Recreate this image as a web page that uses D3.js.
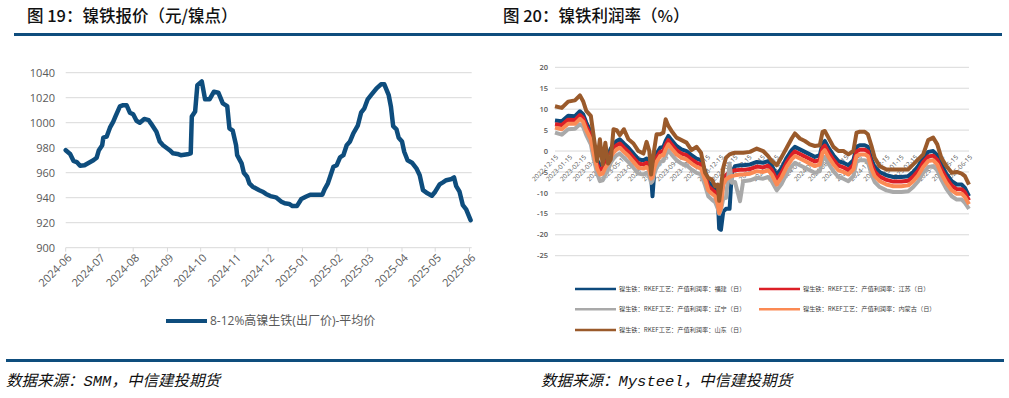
<!DOCTYPE html>
<html>
<head>
<meta charset="utf-8">
<script src="https://cdn.jsdelivr.net/npm/d3@7/dist/d3.min.js"></script>
<style>
  body { margin: 0; background: #fff; }
  svg { display: block; }
  .tick-lbl { font-family: "Open Sans", "Noto Sans CJK SC", sans-serif; fill: #595959; }
</style>
</head>
<body>
<div id="chart"></div>
<script>
// ---- left chart: 8-12% high nickel pig iron price
const priceDates = ["2024-06-01","2024-06-05","2024-06-08","2024-06-11","2024-06-14","2024-06-18","2024-06-22","2024-06-26","2024-06-29",
  "2024-07-01","2024-07-04","2024-07-05","2024-07-08","2024-07-11","2024-07-14","2024-07-16","2024-07-20","2024-07-23","2024-07-26","2024-07-29",
  "2024-08-01","2024-08-04","2024-08-07","2024-08-11","2024-08-15","2024-08-17","2024-08-22","2024-08-25","2024-08-28","2024-08-31",
  "2024-09-03","2024-09-06","2024-09-10","2024-09-13","2024-09-19","2024-09-22","2024-09-23","2024-09-26","2024-09-28",
  "2024-10-02","2024-10-05","2024-10-09","2024-10-13","2024-10-17","2024-10-21","2024-10-25","2024-10-27","2024-10-30",
  "2024-11-02","2024-11-03","2024-11-07","2024-11-09","2024-11-12","2024-11-14","2024-11-17","2024-11-23","2024-11-26","2024-11-29",
  "2024-12-03","2024-12-08","2024-12-13","2024-12-16","2024-12-20","2024-12-23","2024-12-27","2024-12-31",
  "2025-01-04","2025-01-08","2025-01-13","2025-01-19","2025-01-21","2025-01-24","2025-01-26","2025-01-29",
  "2025-02-01","2025-02-04","2025-02-07","2025-02-10","2025-02-13","2025-02-16","2025-02-20","2025-02-23","2025-02-26",
  "2025-03-01","2025-03-04","2025-03-09","2025-03-13","2025-03-16","2025-03-20","2025-03-22","2025-03-24","2025-03-27","2025-03-29",
  "2025-04-01","2025-04-03","2025-04-06","2025-04-10","2025-04-14","2025-04-17","2025-04-20","2025-04-24","2025-04-28",
  "2025-05-01","2025-05-05","2025-05-08","2025-05-11","2025-05-15","2025-05-18","2025-05-20","2025-05-23","2025-05-26","2025-05-29","2025-06-02"];
const priceValues = [978,975,969.5,968.5,965.6,966,968,970,972,
  978,982,988,988.8,996,1000.8,1005,1013,1014,1014,1008,
  1006.7,1001.6,1000,1003,1002,999.5,992.8,985,982,980,
  978,975.5,975,974,974.7,975.5,1005,1009,1030,
  1033,1018.7,1018.7,1024.8,1024,1015.5,1013.3,995.5,993.6,
  982,974,967.5,960,956.8,951.5,948.8,946,944.8,943,
  941.3,940.3,936.8,935.5,935,933.3,933.3,939,
  940.8,942.4,942.4,942.4,946.7,951.5,956.8,964.8,
  966,972.3,974,982,985,991.5,997.6,1008,1011.5,
  1018.7,1022,1027.5,1030.7,1030.7,1022,1012.8,997.3,994.7,988,
  985,976.8,970,968,963.5,958,946,943.5,941.6,
  944.8,950.7,952.3,954,954.7,956.3,949.3,944.8,934,930.7,922];
const priceTicks = [900, 920, 940, 960, 980, 1000, 1020, 1040];
const priceName = "8-12%高镍生铁(出厂价)-平均价";

// ---- right chart: RKEF profit margin by province
const profitDates = ["2022-12-15","2022-12-30","2023-01-13","2023-01-28","2023-02-08","2023-02-15","2023-02-22","2023-03-04","2023-03-11","2023-03-18",
  "2023-03-24","2023-03-30","2023-04-05","2023-04-11","2023-04-17","2023-04-23","2023-04-30","2023-05-07","2023-05-16","2023-05-26",
  "2023-06-06","2023-06-17","2023-06-28","2023-07-05","2023-07-11","2023-07-15","2023-07-18","2023-07-22","2023-07-27","2023-08-04",
  "2023-08-11","2023-08-16","2023-08-22","2023-08-29","2023-09-09","2023-09-20","2023-10-01","2023-10-12","2023-10-23","2023-11-02",
  "2023-11-11","2023-11-18","2023-11-26","2023-12-03","2023-12-09","2023-12-12","2023-12-16","2023-12-21","2023-12-27","2024-01-04",
  "2024-01-09","2024-01-16","2024-01-27","2024-02-03","2024-02-18","2024-03-04","2024-03-18","2024-03-29","2024-04-06","2024-04-17",
  "2024-04-28","2024-05-09","2024-05-20","2024-05-27","2024-06-07","2024-06-18","2024-06-29","2024-07-10","2024-07-21","2024-07-27",
  "2024-08-01","2024-08-09","2024-08-20","2024-08-31","2024-09-11","2024-09-22","2024-10-03","2024-10-10","2024-10-17","2024-10-28",
  "2024-11-04","2024-11-12","2024-11-19","2024-11-30","2024-12-15","2024-12-30","2025-01-17","2025-02-01","2025-02-12","2025-02-23",
  "2025-03-06","2025-03-17","2025-03-28","2025-04-06","2025-04-15","2025-04-26","2025-05-08","2025-05-19","2025-05-30","2025-06-06","2025-06-15"];
const fujian = [7.3,7.1,8.4,8.3,9.5,8.8,6.8,4.6,1.0,-2.2,
  -3.4,-3.0,-1.8,-1.0,0.6,1.6,2.4,2.8,1.8,0.8,
  -0.6,-2.0,-2.2,-1.8,-2.6,-6.0,-10.8,-5.0,-0.6,0.8,
  1.0,2.4,3.6,2.6,1.2,0.4,0.0,-1.0,-1.8,-2.2,
  -4.8,-7.4,-8.2,-8.8,-11.5,-18.5,-18.8,-14.5,-13.8,-13.8,
  -5.2,-3.6,-3.4,-3.4,-3.2,-2.6,-2.8,-2.4,-3.4,-5.8,
  -4.0,-1.6,0.2,1.0,0.4,-0.2,-0.8,-1.4,-1.0,1.8,
  2.4,0.8,-1.0,-2.4,-2.8,-3.4,-2.2,1.0,1.4,1.4,
  1.0,-2.0,-3.8,-5.0,-5.8,-6.2,-6.2,-6.0,-5.0,-3.6,
  -1.6,-0.2,0.0,-1.0,-3.2,-5.4,-7.2,-8.0,-8.0,-8.8,-10.8];
const jiangsu = [6.4,6.2,7.5,7.4,8.6,7.9,5.9,3.7,0.0,-3.2,
  -4.5,-4.2,-2.9,-2.0,-0.4,0.6,1.4,1.8,0.8,-0.2,
  -1.6,-3.0,-3.2,-2.8,-3.6,-5.8,-5.4,-3.0,-1.6,-0.2,
  0.0,1.4,2.6,1.6,0.2,-0.6,-1.0,-2.0,-2.8,-3.2,
  -5.8,-8.4,-9.2,-9.8,-11.6,-13.2,-12.0,-7.0,-5.8,-5.0,
  -4.8,-4.6,-4.5,-4.5,-4.3,-3.7,-3.9,-3.5,-4.5,-6.9,
  -5.1,-2.7,-0.9,-0.1,-0.7,-1.3,-1.9,-2.5,-2.1,0.7,
  1.3,-0.3,-2.1,-3.5,-3.9,-4.5,-3.3,-0.1,0.3,0.3,
  -0.1,-3.1,-4.9,-6.1,-6.9,-7.3,-7.3,-7.1,-6.1,-4.7,
  -2.7,-1.3,-1.1,-2.1,-4.3,-6.5,-8.3,-9.1,-9.1,-9.9,-11.8];
const liaoning = [4.4,3.9,5.2,5.3,6.4,5.8,3.8,1.6,-2.2,-5.4,
  -7.2,-7.0,-5.6,-4.5,-2.8,-1.8,-1.0,-0.6,-1.6,-2.6,
  -4.0,-5.4,-5.6,-5.2,-6.0,-7.6,-7.2,-5.4,-4.0,-2.6,
  -2.4,-1.0,0.2,-0.8,-2.2,-3.0,-3.4,-4.4,-5.2,-5.6,
  -8.2,-10.8,-11.6,-12.2,-13.8,-15.0,-14.0,-11.4,-11.2,-3.0,
  -7.6,-7.4,-12.0,-7.2,-7.0,-6.4,-6.6,-6.2,-7.2,-9.4,
  -7.8,-5.4,-3.6,-2.8,-3.4,-4.0,-4.6,-5.2,-4.8,-2.0,
  -1.4,-3.0,-4.8,-6.2,-6.6,-7.2,-6.0,-2.6,-2.2,-2.2,
  -2.6,-5.6,-7.4,-8.6,-9.4,-9.8,-9.8,-9.6,-8.6,-7.2,
  -5.2,-3.8,-3.6,-4.6,-6.8,-9.0,-10.8,-11.6,-11.6,-12.4,-13.8];
const neimenggu = [5.6,5.2,6.5,6.5,7.7,7.0,5.0,2.8,-1.0,-4.2,
  -5.6,-5.4,-4.0,-3.0,-1.4,-0.4,0.4,0.8,-0.2,-1.2,
  -2.6,-4.0,-4.2,-3.8,-4.6,-6.6,-6.2,-4.0,-2.6,-1.2,
  -1.0,0.4,1.6,0.6,-0.8,-1.6,-2.0,-3.0,-3.8,-4.2,
  -6.8,-9.4,-10.2,-10.8,-12.8,-14.8,-13.5,-8.0,-6.8,-6.2,
  -6.0,-5.8,-5.6,-5.6,-5.4,-4.8,-5.0,-4.6,-5.6,-8.0,
  -6.2,-3.8,-2.0,-1.2,-1.8,-2.4,-3.0,-3.6,-3.2,-0.4,
  0.2,-1.4,-3.2,-4.6,-5.0,-5.6,-4.4,-1.2,-0.8,-0.8,
  -1.2,-4.2,-6.0,-7.2,-8.0,-8.4,-8.4,-8.2,-7.2,-5.8,
  -3.8,-2.4,-2.2,-3.2,-5.4,-7.6,-9.4,-10.2,-10.2,-11.0,-12.7];
const shandong = [10.7,10.3,11.8,12.1,13.3,11.9,9.6,8.4,3.0,-2.4,
  2.8,-3.2,2.0,-3.0,-2.0,5.2,5.0,3.8,5.2,2.8,
  1.8,0.0,-0.6,2.2,0.0,-5.6,-3.0,0.5,4.0,4.0,
  4.4,7.6,6.0,4.8,3.2,2.6,2.0,0.2,1.0,-0.4,
  -5.2,-6.4,-6.8,-8.4,-8.0,-11.9,-8.8,-4.0,-1.6,-0.8,
  -0.6,-0.4,-0.4,-0.4,-0.2,0.6,0.0,-1.2,-2.4,-3.4,
  -1.4,0.8,3.0,4.2,3.0,2.4,1.6,1.2,1.4,4.6,
  4.8,3.2,1.0,0.0,0.0,-0.8,0.0,4.4,4.6,4.6,
  4.0,1.2,-1.6,-3.6,-4.4,-4.4,-4.4,-4.4,-3.2,-2.0,
  -0.8,2.6,3.2,1.6,-1.6,-3.6,-5.2,-5.0,-5.4,-6.0,-8.0];
const profitTicks = [-25, -20, -15, -10, -5, 0, 5, 10, 15, 20];
const profitSeries = [
  { name: "镍生铁：RKEF工艺：产值利润率：福建（日）", values: fujian, color: "#0d4a7c" },
  { name: "镍生铁：RKEF工艺：产值利润率：江苏（日）", values: jiangsu, color: "#dc1f26" },
  { name: "镍生铁：RKEF工艺：产值利润率：辽宁（日）", values: liaoning, color: "#a9a9a9" },
  { name: "镍生铁：RKEF工艺：产值利润率：内蒙古（日）", values: neimenggu, color: "#fb8a54" },
  { name: "镍生铁：RKEF工艺：产值利润率：山东（日）", values: shandong, color: "#9a5a2b" }
];

const W = 1009, H = 398;
const parse = d3.timeParse("%Y-%m-%d");
const svg = d3.select("#chart").append("svg").attr("width", W).attr("height", H);

// headers & rules
const titleFont = '"Noto Sans CJK SC", sans-serif';
svg.append("text").attr("x", 27).attr("y", 22).attr("font-family", titleFont).attr("font-size", 16.5)
  .attr("font-weight", 500).attr("fill", "#111").text("图 19：镍铁报价（元/镍点）");
svg.append("text").attr("x", 503).attr("y", 22).attr("font-family", titleFont).attr("font-size", 16.5)
  .attr("font-weight", 500).attr("fill", "#111").text("图 20：镍铁利润率（%）");
svg.append("rect").attr("x", 14).attr("y", 33).attr("width", 988).attr("height", 3).attr("fill", "#0e4d7d");
svg.append("rect").attr("x", 6).attr("y", 359).attr("width", 998).attr("height", 3).attr("fill", "#0e4d7d");
const noteFont = '"Liberation Mono", "Noto Sans CJK SC", monospace';
svg.append("text").attr("x", 6).attr("y", 386).attr("font-family", noteFont).attr("font-size", 15.5)
  .attr("font-style", "italic").attr("fill", "#111").text("数据来源：SMM，中信建投期货");
svg.append("text").attr("x", 541).attr("y", 386).attr("font-family", noteFont).attr("font-size", 15.5)
  .attr("font-style", "italic").attr("fill", "#111").text("数据来源：Mysteel，中信建投期货");

// ===== left chart
{
  const x = d3.scaleTime().domain([parse("2024-06-01"), parse("2025-06-03")]).range([65.7, 471.7]);
  const y = d3.scaleLinear().domain([900, 1040]).range([247.7, 72.7]);
  const g = svg.append("g");

  g.selectAll(".grid").data(priceTicks).enter().append("line")
    .attr("x1", 65.7).attr("x2", 471.7).attr("y1", d => y(d)).attr("y2", d => y(d))
    .attr("stroke", "#d9d9d9").attr("stroke-width", 1);
  g.selectAll(".ylbl").data(priceTicks).enter().append("text")
    .attr("class", "tick-lbl").attr("x", 55).attr("y", d => y(d)).attr("dy", "0.35em")
    .attr("text-anchor", "end").attr("font-size", 11).text(d => d);

  const months = d3.timeMonth.range(parse("2024-06-01"), parse("2025-06-02"));
  g.selectAll(".xt").data(months).enter().append("line")
    .attr("x1", d => x(d)).attr("x2", d => x(d)).attr("y1", y(900)).attr("y2", y(900) + 4)
    .attr("stroke", "#d9d9d9");
  g.selectAll(".xlbl").data(months).enter().append("text")
    .attr("class", "tick-lbl").attr("font-size", 11).attr("text-anchor", "end")
    .attr("transform", d => `translate(${x(d) + 4},${y(900) + 8}) rotate(-45)`)
    .attr("dy", "0.35em").text(d3.timeFormat("%Y-%m"));

  const line = d3.line().x((d, i) => x(parse(priceDates[i]))).y(d => y(d));
  g.append("path").datum(priceValues).attr("d", line).attr("fill", "none")
    .attr("stroke", "#0e4d7d").attr("stroke-width", 4.5).attr("stroke-linejoin", "round").attr("stroke-linecap", "round");

  g.append("line").attr("x1", 166).attr("x2", 207).attr("y1", 321).attr("y2", 321)
    .attr("stroke", "#0e4d7d").attr("stroke-width", 4);
  g.append("text").attr("class", "tick-lbl").attr("x", 210).attr("y", 321).attr("dy", "0.35em")
    .attr("font-size", 12).text(priceName);
}

// ===== right chart
{
  const x = d3.scaleTime().domain([parse("2022-12-15"), parse("2025-06-15")]).range([555, 969]);
  const y = d3.scaleLinear().domain([-25, 20]).range([255.7, 67.3]);
  const g = svg.append("g");

  g.selectAll(".grid").data(profitTicks).enter().append("line")
    .attr("x1", 555).attr("x2", 969).attr("y1", d => y(d)).attr("y2", d => y(d))
    .attr("stroke", "#d9d9d9").attr("stroke-width", 1);
  g.selectAll(".ylbl").data(profitTicks).enter().append("text")
    .attr("class", "tick-lbl").attr("x", 548).attr("y", d => y(d)).attr("dy", "0.35em")
    .attr("text-anchor", "end").attr("font-size", 7.5).attr("font-weight", 600).text(d => d);

  const ticks = d3.range(0, 31).map(i => d3.timeMonth.offset(parse("2022-12-15"), i));
  g.selectAll(".xlbl").data(ticks).enter().append("text")
    .attr("class", "tick-lbl").attr("font-size", 6.5).attr("text-anchor", "end")
    .attr("transform", d => `translate(${x(d) + 2},${y(0) + 5}) rotate(-45)`)
    .attr("dy", "0.35em").text(d3.timeFormat("%Y-%m-%d"));

  profitSeries.forEach(s => {
    const line = d3.line().x((d, i) => x(parse(profitDates[i]))).y(d => y(d));
    g.append("path").datum(s.values).attr("d", line).attr("fill", "none")
      .attr("stroke", s.color).attr("stroke-width", 4).attr("stroke-linejoin", "round");
  });

  const legendPos = [[575, 289], [759, 289], [575, 309.3], [759, 309.3], [575, 330]];
  profitSeries.forEach((s, i) => {
    const [lx, ly] = legendPos[i];
    g.append("line").attr("x1", lx).attr("x2", lx + 41).attr("y1", ly).attr("y2", ly)
      .attr("stroke", s.color).attr("stroke-width", 2.5);
    g.append("text").attr("x", lx + 44).attr("y", ly).attr("dy", "0.35em")
      .attr("font-family", '"Noto Sans CJK SC", sans-serif').attr("font-size", 6.2)
      .attr("fill", "#404040").text(s.name);
  });
}
</script>
</body>
</html>
